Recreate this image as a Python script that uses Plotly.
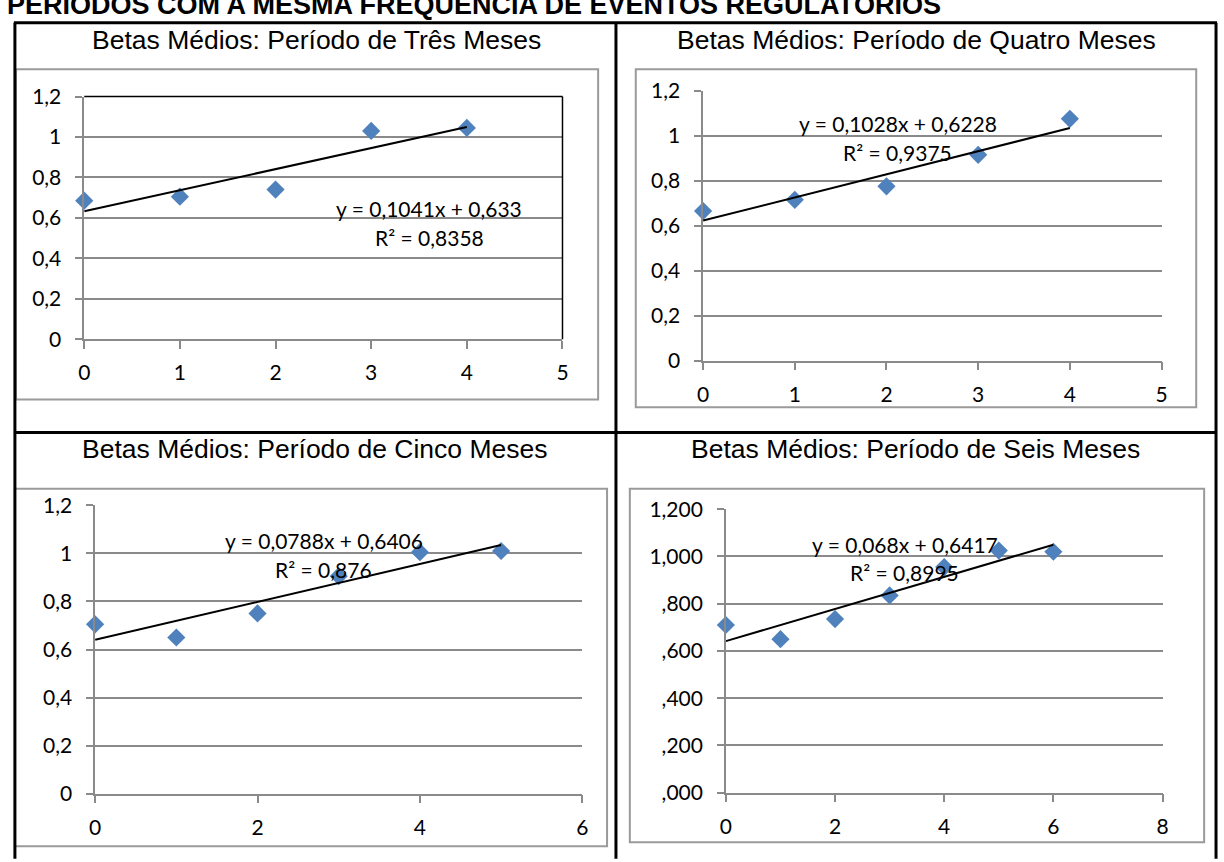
import plotly.graph_objects as go

W, H = 1224, 862

# ---------------- data ----------------
titles = [
    "Betas Médios: Período de Três Meses",
    "Betas Médios: Período de Quatro Meses",
    "Betas Médios: Período de Cinco Meses",
    "Betas Médios: Período de Seis Meses",
]
x_tres = [0, 1, 2, 3, 4]
y_tres = [0.685, 0.705, 0.74, 1.03, 1.045]
x_quatro = [0, 1, 2, 3, 4]
y_quatro = [0.665, 0.715, 0.775, 0.915, 1.075]
x_cinco = [0, 1, 2, 3, 4, 5]
y_cinco = [0.705, 0.65, 0.75, 0.905, 1.005, 1.01]
x_seis = [0, 1, 2, 3, 4, 5, 6]
y_seis = [0.71, 0.65, 0.735, 0.835, 0.955, 1.025, 1.02]

slopes = [0.1041, 0.1028, 0.0788, 0.068]
intercepts = [0.633, 0.6228, 0.6406, 0.6417]
eq_texts = ["y = 0,1041x + 0,633", "y = 0,1028x + 0,6228",
            "y = 0,0788x + 0,6406", "y = 0,068x + 0,6417"]
r2_texts = ["R² = 0,8358", "R² = 0,9375", "R² = 0,876", "R² = 0,8995"]

y_tickvals = [0, 0.2, 0.4, 0.6, 0.8, 1.0, 1.2]
y_ticktext = ["0", "0,2", "0,4", "0,6", "0,8", "1", "1,2"]
y_ticktext_seis = [",000", ",200", ",400", ",600", ",800", "1,000", "1,200"]
x_ticks_5 = [0, 1, 2, 3, 4, 5]
x_ticks_6 = [0, 2, 4, 6]
x_ticks_8 = [0, 2, 4, 6, 8]

header = "PERÍODOS COM A MESMA FREQUÊNCIA DE EVENTOS REGULATÓRIOS"

# ---------------- layout helpers ----------------
def px(p):
    return p / W

def py(p):
    return 1 - p / H

BLUE = "#4F81BD"
GRID = "#8a8a8a"
FRAME = "#9a9a9a"
TICKFONT = dict(family="Lato, Calibri, sans-serif", size=21, color="#000000")

panels = [
    dict(x=x_tres, y=y_tres, xdom=(79, 562), ydom=(85, 335), xr=[0, 5],
         xt=x_ticks_5, yt=y_ticktext, title_pos=(314, 27),
         eq=(427, 200), r2=(428, 230), frame=(10, 57, 598, 397)),
    dict(x=x_quatro, y=y_quatro, xdom=(704, 1167), ydom=(79, 357), xr=[0, 5],
         xt=x_ticks_5, yt=y_ticktext, title_pos=(920, 27),
         eq=(901, 113), r2=(900, 143), frame=(636, 57, 1202, 405)),
    dict(x=x_cinco, y=y_cinco, xdom=(90, 582), ydom=(506, 803), xr=[0, 6],
         xt=x_ticks_6, yt=y_ticktext, title_pos=(312, 448),
         eq=(321, 542), r2=(321, 572), frame=(9, 489, 607, 857)),
    dict(x=x_seis, y=y_seis, xdom=(727, 1168), ydom=(510, 802), xr=[0, 8],
         xt=x_ticks_8, yt=y_ticktext_seis, title_pos=(919, 448),
         eq=(908, 546), r2=(907, 575), frame=(630, 489, 1210, 853)),
]

fig = go.Figure()
shapes = []
annotations = []
layout_axes = {}

for i, p in enumerate(panels):
    n = "" if i == 0 else str(i + 1)
    xa, ya = "x" + n, "y" + n
    # points
    fig.add_trace(go.Scatter(
        x=p["x"], y=p["y"], mode="markers", xaxis=xa, yaxis=ya,
        marker=dict(symbol="diamond", size=14, color=BLUE, line=dict(width=0)),
        cliponaxis=False, showlegend=False, hoverinfo="x+y"))
    # linear trendline
    xs = [min(p["x"]), max(p["x"])]
    ys = [intercepts[i] + slopes[i] * v for v in xs]
    fig.add_trace(go.Scatter(
        x=xs, y=ys, mode="lines", xaxis=xa, yaxis=ya,
        line=dict(color="#000000", width=2), cliponaxis=False,
        showlegend=False, hoverinfo="skip"))

    layout_axes["xaxis" + n] = dict(
        domain=[px(p["xdom"][0]), px(p["xdom"][1])], range=p["xr"],
        anchor=ya, tickvals=p["xt"], ticktext=[str(v) for v in p["xt"]],
        showgrid=False, zeroline=False, showline=True, linecolor=GRID,
        linewidth=1.5, ticks="outside", ticklen=8, tickcolor=GRID,
        tickwidth=1.5, tickfont=TICKFONT, ticklabelstandoff=6, fixedrange=True)
    layout_axes["yaxis" + n] = dict(
        domain=[py(p["ydom"][1]), py(p["ydom"][0])], range=[0, 1.2],
        anchor=xa, tickvals=y_tickvals, ticktext=p["yt"],
        showgrid=True, gridcolor=GRID, gridwidth=1.5, zeroline=False,
        showline=True, linecolor=GRID, linewidth=1.5, ticks="outside",
        ticklen=7, tickcolor=GRID, tickwidth=1.5, tickfont=TICKFONT,
        ticklabelstandoff=10, fixedrange=True)

    # chart frame
    fx0, fy0, fx1, fy1 = p["frame"]
    shapes.append(dict(type="rect", xref="paper", yref="paper",
                       x0=px(fx0), x1=px(fx1), y0=py(fy1), y1=py(fy0),
                       line=dict(color=FRAME, width=2), layer="below"))
    # title
    annotations.append(dict(text=titles[i], xref="paper", yref="paper",
                            x=px(p["title_pos"][0]), y=py(p["title_pos"][1]),
                            xanchor="center", yanchor="middle", showarrow=False,
                            font=dict(family="Liberation Sans, Arial, sans-serif",
                                      size=26.5, color="#000000")))
    # equation labels
    annotations.append(dict(text=eq_texts[i], xref="paper", yref="paper",
                            x=px(p["eq"][0]), y=py(p["eq"][1]),
                            xanchor="center", yanchor="middle", showarrow=False,
                            font=TICKFONT))
    annotations.append(dict(text=r2_texts[i], xref="paper", yref="paper",
                            x=px(p["r2"][0]), y=py(p["r2"][1]),
                            xanchor="center", yanchor="middle", showarrow=False,
                            font=TICKFONT))

# black plot-area border (top & right) in first chart
shapes.append(dict(type="line", xref="x domain", yref="y domain",
                   x0=0, x1=1, y0=1, y1=1, line=dict(color="#000000", width=1.5)))
shapes.append(dict(type="line", xref="x domain", yref="y domain",
                   x0=1, x1=1, y0=0, y1=1, line=dict(color="#000000", width=1.5)))

# table lines
TL = dict(color="#000000", width=3)
shapes.append(dict(type="line", xref="paper", yref="paper",
                   x0=px(9), x1=px(9), y0=py(870), y1=py(9), line=TL))
shapes.append(dict(type="line", xref="paper", yref="paper",
                   x0=px(1222), x1=px(1222), y0=py(870), y1=py(9), line=TL))
shapes.append(dict(type="line", xref="paper", yref="paper",
                   x0=px(8), x1=px(1223), y0=py(9), y1=py(9), line=TL))
shapes.append(dict(type="line", xref="paper", yref="paper",
                   x0=px(616), x1=px(616), y0=py(870), y1=py(9), line=TL))
shapes.append(dict(type="line", xref="paper", yref="paper",
                   x0=px(8), x1=px(1223), y0=py(431), y1=py(431), line=TL))

# page header (partly cut off at the top)
annotations.append(dict(text="<b>" + header + "</b>", xref="paper", yref="paper",
                        x=px(-1), y=py(8), xanchor="left", yanchor="bottom",
                        showarrow=False,
                        font=dict(family="Liberation Sans, Arial, sans-serif",
                                  size=27, color="#000000")))

fig.update_layout(
    autosize=True, margin=dict(l=0, r=0, t=0, b=0),
    paper_bgcolor="#ffffff", plot_bgcolor="rgba(0,0,0,0)",
    shapes=shapes, annotations=annotations, showlegend=False,
    **layout_axes)

# the graph div is pinned to the page's top-left corner at exactly 1224x862
fig.write_html("out.html",
               default_width="%dpx" % W,
               default_height="%dpx;position:absolute;left:0;top:0;margin:0" % H,
               config={"displayModeBar": False, "responsive": False})
